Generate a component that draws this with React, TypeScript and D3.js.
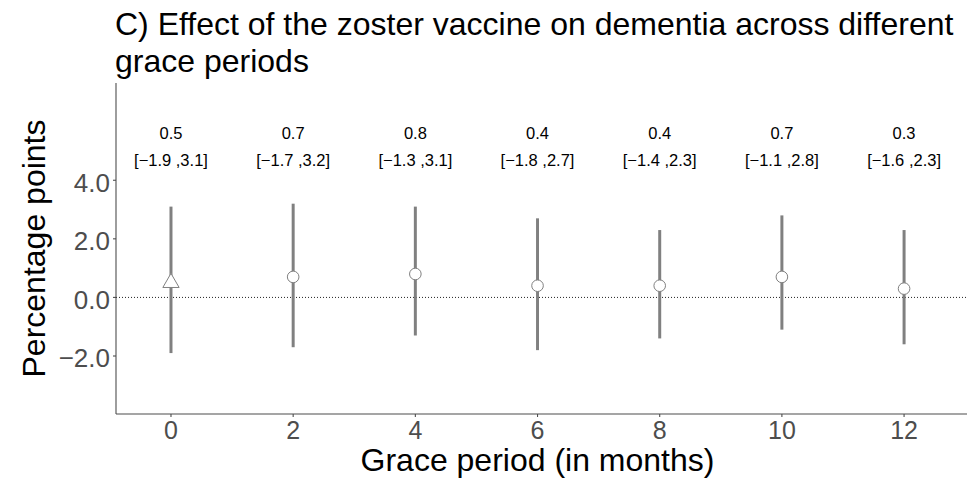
import React from "react";
import * as d3 from "d3";

// grace period (months) and the estimated effect, in percentage points
const graceMonths = [0, 2, 4, 6, 8, 10, 12];
const estimates = [0.5, 0.7, 0.8, 0.4, 0.4, 0.7, 0.3];
const lowerCI = [-1.9, -1.7, -1.3, -1.8, -1.4, -1.1, -1.6];
const upperCI = [3.1, 3.2, 3.1, 2.7, 2.3, 2.8, 2.3];
const yTicks = [-2, 0, 2, 4];

const titleLines = [
  "C) Effect of the zoster vaccine on dementia across different",
  "grace periods",
];

const W = 967;
const H = 479;
const FONT = "'Liberation Sans', Arial, Helvetica, sans-serif";
const GREY = "#808080";

const App = () => {
  const left = 116;
  const top = 83;
  const bottom = 414;

  const x = d3.scaleLinear().domain([-0.9, 13.03]).range([left, W]);
  const y = d3.scaleLinear().domain([-3.98, 7.32]).range([bottom, top]);
  const fmt = d3.format(".1f");

  const tri = d3.symbol().type(d3.symbolTriangle).size(115)();

  return (
    <div style={{ position: "absolute", left: 0, top: 0 }}>
      <svg width={W} height={H} style={{ display: "block", fontFamily: FONT }}>
        <rect width={W} height={H} fill="white" />

        {/* title */}
        {titleLines.map((t, i) => (
          <text key={i} x={115} y={35 + i * 37} fontSize={32} fill="black">
            {t}
          </text>
        ))}

        {/* zero reference line */}
        <line
          x1={left}
          x2={W}
          y1={y(0)}
          y2={y(0)}
          stroke="#222"
          strokeWidth={1}
          strokeDasharray="1 2"
        />

        {/* confidence intervals */}
        {graceMonths.map((m, i) => (
          <line
            key={"ci" + m}
            x1={x(m)}
            x2={x(m)}
            y1={y(lowerCI[i])}
            y2={y(upperCI[i])}
            stroke={GREY}
            strokeWidth={3}
          />
        ))}

        {/* point estimates */}
        {graceMonths.map((m, i) =>
          i === 0 ? (
            <path
              key={"pt" + m}
              d={tri}
              transform={`translate(${x(m)},${y(estimates[i])})`}
              fill="white"
              stroke={GREY}
              strokeWidth={1}
            />
          ) : (
            <circle
              key={"pt" + m}
              cx={x(m)}
              cy={y(estimates[i])}
              r={5.8}
              fill="white"
              stroke={GREY}
              strokeWidth={1}
            />
          )
        )}

        {/* annotations */}
        {graceMonths.map((m, i) => (
          <g key={"lab" + m} fontSize={16.5} textAnchor="middle" fill="black">
            <text x={x(m)} y={y(5.6)} dy="0.36em">
              {fmt(estimates[i])}
            </text>
            <text x={x(m)} y={y(4.7)} dy="0.36em">
              {`[${fmt(lowerCI[i])} ,${fmt(upperCI[i])}]`}
            </text>
          </g>
        ))}

        {/* y axis */}
        <line x1={left} x2={left} y1={top} y2={bottom} stroke="#4d4d4d" strokeWidth={1.1} />
        {yTicks.map((t) => (
          <g key={"yt" + t}>
            <line x1={left - 3} x2={left} y1={y(t)} y2={y(t)} stroke="#4d4d4d" strokeWidth={1.1} />
            <text
              x={left - 6}
              y={y(t)}
              dy="0.44em"
              textAnchor="end"
              fontSize={26}
              fill="#4d4d4d"
            >
              {fmt(t)}
            </text>
          </g>
        ))}

        {/* x axis */}
        <line x1={left} x2={W} y1={bottom} y2={bottom} stroke="#4d4d4d" strokeWidth={1.1} />
        {graceMonths.map((m) => (
          <g key={"xt" + m}>
            <line x1={x(m)} x2={x(m)} y1={bottom} y2={bottom + 3} stroke="#4d4d4d" strokeWidth={1.1} />
            <text x={x(m)} y={439} textAnchor="middle" fontSize={25} fill="#4d4d4d">
              {m}
            </text>
          </g>
        ))}

        {/* axis titles */}
        <text x={(left + W) / 2 - 4} y={470.5} textAnchor="middle" fontSize={32} fill="black">
          Grace period (in months)
        </text>
        <text
          transform={`translate(45,${(top + bottom) / 2}) rotate(-90)`}
          textAnchor="middle"
          fontSize={32}
          fill="black"
        >
          Percentage points
        </text>
      </svg>
    </div>
  );
};

export default App;
